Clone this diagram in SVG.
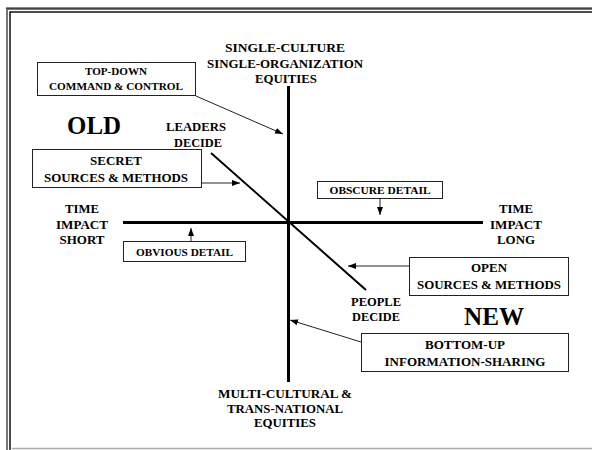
<svg xmlns="http://www.w3.org/2000/svg" width="592" height="450" viewBox="0 0 592 450">
<style>
text{font-family:'Liberation Serif','Times New Roman',serif;font-weight:700;fill:#000;text-anchor:middle}
.ax{font-size:13px}
.b11{font-size:11px}
.b13{font-size:13px}
.big{font-size:25px}
.box{fill:#fff;stroke:#222;stroke-width:1}
.axis{stroke:#000;stroke-width:3;fill:none}
.arr{stroke:#222;stroke-width:1;fill:none;marker-end:url(#ah)}
</style>
<defs>
<marker id="ah" viewBox="0 0 8 6" refX="8" refY="3" markerWidth="8" markerHeight="6" markerUnits="userSpaceOnUse" orient="auto">
<path d="M0,0 L8,3 L0,6 z" fill="#000"/>
</marker>
</defs>
<rect width="592" height="450" fill="#fff"/>
<g id="frame">
<path d="M7,450 V9 H592" fill="none" stroke="#777" stroke-width="2"/>
<path d="M6,8 H592" fill="none" stroke="#111" stroke-width="1"/>
<path d="M10,450 V12 H592" fill="none" stroke="#111" stroke-width="1.5"/>
<path d="M12,448.5 H592" fill="none" stroke="#aaa" stroke-width="1.5"/>
</g>
<g id="axes">
<line class="axis" x1="288.5" y1="86" x2="288.5" y2="382"/>
<line class="axis" x1="123" y1="222.5" x2="483" y2="222.5"/>
<line x1="211" y1="153" x2="366" y2="290" stroke="#000" stroke-width="2"/>
</g>
<g id="connectors">
<line class="arr" x1="196" y1="96" x2="283" y2="134"/>
<line class="arr" x1="202" y1="183" x2="240" y2="183"/>
<line class="arr" x1="191" y1="241" x2="191" y2="228"/>
<line class="arr" x1="380" y1="198" x2="380" y2="215"/>
<line class="arr" x1="409" y1="266" x2="348" y2="266"/>
<line class="arr" x1="361" y1="342" x2="290" y2="320"/>
</g>
<g id="top-label">
<text class="ax" x="285" y="52" textLength="120" lengthAdjust="spacingAndGlyphs">SINGLE-CULTURE</text>
<text class="ax" x="285" y="68" textLength="156" lengthAdjust="spacingAndGlyphs">SINGLE-ORGANIZATION</text>
<text class="ax" x="286" y="83" textLength="62" lengthAdjust="spacingAndGlyphs">EQUITIES</text>
</g>
<g id="bottom-label">
<text class="ax" x="285" y="398" textLength="134" lengthAdjust="spacingAndGlyphs">MULTI-CULTURAL &amp;</text>
<text class="ax" x="285" y="413" textLength="116" lengthAdjust="spacingAndGlyphs">TRANS-NATIONAL</text>
<text class="ax" x="285" y="427" textLength="62" lengthAdjust="spacingAndGlyphs">EQUITIES</text>
</g>
<g id="left-label">
<text class="ax" x="82" y="213" textLength="34" lengthAdjust="spacingAndGlyphs">TIME</text>
<text class="ax" x="82" y="229" textLength="52" lengthAdjust="spacingAndGlyphs">IMPACT</text>
<text class="ax" x="82" y="244" textLength="45" lengthAdjust="spacingAndGlyphs">SHORT</text>
</g>
<g id="right-label">
<text class="ax" x="516" y="213" textLength="34" lengthAdjust="spacingAndGlyphs">TIME</text>
<text class="ax" x="516" y="229" textLength="52" lengthAdjust="spacingAndGlyphs">IMPACT</text>
<text class="ax" x="516" y="244" textLength="38" lengthAdjust="spacingAndGlyphs">LONG</text>
</g>
<g id="old">
<text class="big" x="94" y="134" textLength="54" lengthAdjust="spacingAndGlyphs">OLD</text>
</g>
<g id="new">
<text class="big" x="494" y="325" textLength="60" lengthAdjust="spacingAndGlyphs">NEW</text>
</g>
<g id="leaders-decide">
<text class="ax" x="196" y="131" textLength="60" lengthAdjust="spacingAndGlyphs">LEADERS</text>
<text class="ax" x="198" y="147" textLength="48" lengthAdjust="spacingAndGlyphs">DECIDE</text>
</g>
<g id="people-decide">
<text class="ax" x="376" y="306" textLength="50" lengthAdjust="spacingAndGlyphs">PEOPLE</text>
<text class="ax" x="376" y="321" textLength="48" lengthAdjust="spacingAndGlyphs">DECIDE</text>
</g>
<g id="top-down">
<rect class="box" x="37.5" y="62.5" width="158" height="33"/>
<text class="b11" x="116" y="75" textLength="62" lengthAdjust="spacingAndGlyphs">TOP-DOWN</text>
<text class="b11" x="116" y="90" textLength="134" lengthAdjust="spacingAndGlyphs">COMMAND &amp; CONTROL</text>
</g>
<g id="secret">
<rect class="box" x="32.5" y="149.5" width="169" height="38"/>
<text class="b13" x="116" y="165" textLength="52" lengthAdjust="spacingAndGlyphs">SECRET</text>
<text class="b13" x="116" y="182" textLength="144" lengthAdjust="spacingAndGlyphs">SOURCES &amp; METHODS</text>
</g>
<g id="obvious">
<rect class="box" x="123.5" y="241.5" width="122" height="20"/>
<text class="b11" x="184.5" y="256" textLength="97" lengthAdjust="spacingAndGlyphs">OBVIOUS DETAIL</text>
</g>
<g id="obscure">
<rect class="box" x="317.5" y="181.5" width="125" height="17"/>
<text class="b11" x="380" y="194" textLength="101" lengthAdjust="spacingAndGlyphs">OBSCURE DETAIL</text>
</g>
<g id="open">
<rect class="box" x="409.5" y="257.5" width="159" height="38"/>
<text class="b13" x="489" y="272" textLength="36" lengthAdjust="spacingAndGlyphs">OPEN</text>
<text class="b13" x="489" y="289" textLength="144" lengthAdjust="spacingAndGlyphs">SOURCES &amp; METHODS</text>
</g>
<g id="bottom-up">
<rect class="box" x="361.5" y="333.5" width="207" height="38"/>
<text class="b13" x="465" y="349" textLength="80" lengthAdjust="spacingAndGlyphs">BOTTOM-UP</text>
<text class="b13" x="465" y="366" textLength="161" lengthAdjust="spacingAndGlyphs">INFORMATION-SHARING</text>
</g>
</svg>
